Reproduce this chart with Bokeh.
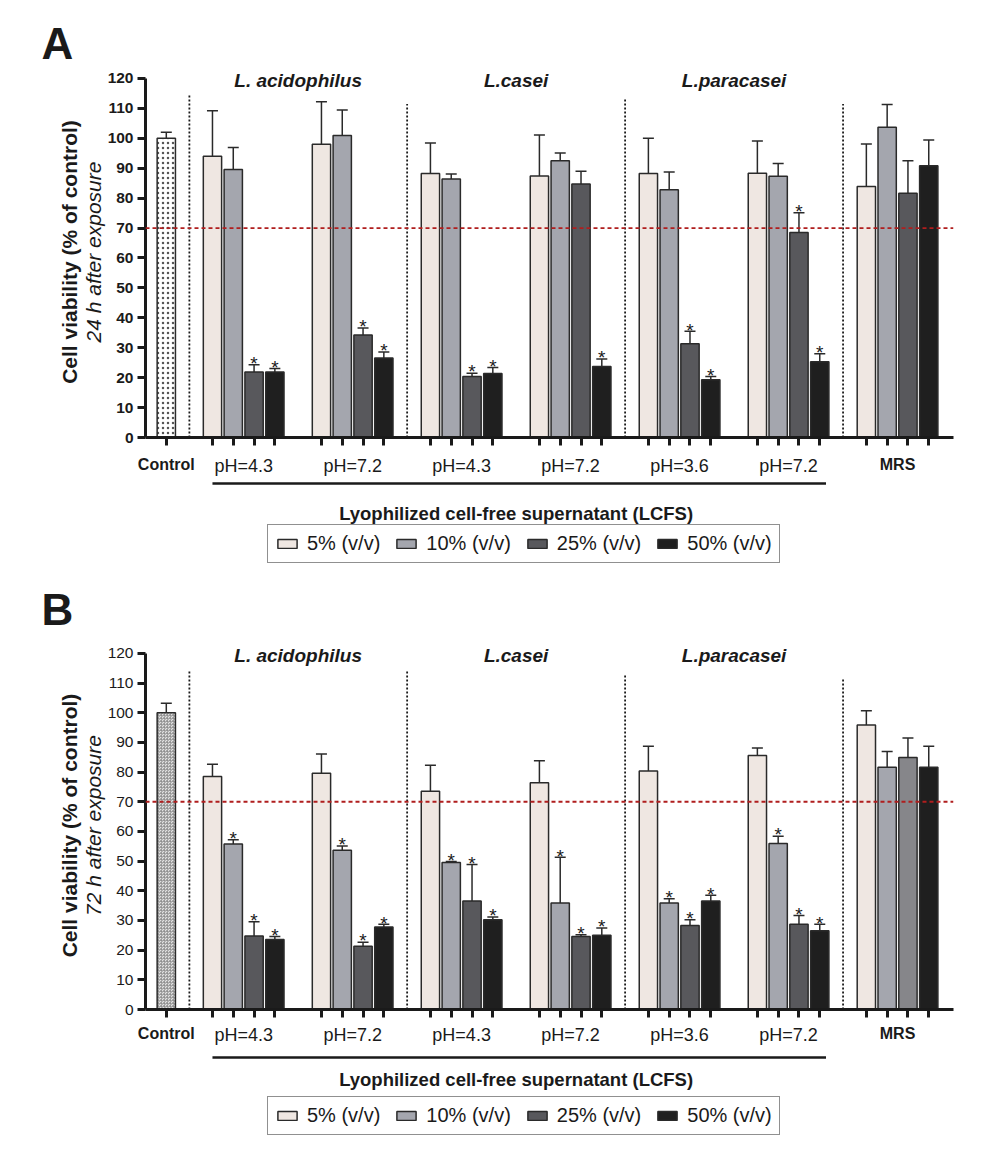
from bokeh.plotting import figure
from bokeh.models import (Range1d, LinearAxis, FixedTicker, Whisker, TeeHead,
                          ColumnDataSource, Legend, LegendItem, Span, CustomJSTickFormatter)
from bokeh.layouts import column
from bokeh.core.properties import value
from bokeh.embed import file_html
from bokeh.resources import INLINE

# ---------------- data ----------------
concentrations = ["5% (v/v)", "10% (v/v)", "25% (v/v)", "50% (v/v)"]
group_labels = ["pH=4.3", "pH=7.2", "pH=4.3", "pH=7.2", "pH=3.6", "pH=7.2", "MRS"]
control_label = "Control"
strains = ["L. acidophilus", "L.casei", "L.paracasei"]
x_title = "Lyophilized cell-free supernatant (LCFS)"

# Panel A: 24 h
A_control = 100.0
A_control_err = 2.0
A_5 = [94.0, 98.0, 88.2, 87.4, 88.2, 88.3, 83.9]
A_5_err = [15.2, 14.2, 10.2, 13.7, 11.8, 10.8, 14.2]
A_10 = [89.6, 100.9, 86.4, 92.5, 82.8, 87.3, 103.7]
A_10_err = [7.3, 8.6, 1.7, 2.6, 5.9, 4.3, 7.6]
A_25 = [21.9, 34.3, 20.4, 84.7, 31.3, 68.5, 81.6]
A_25_err = [2.4, 2.3, 1.1, 4.3, 4.2, 6.6, 10.9]
A_50 = [21.9, 26.6, 21.4, 23.7, 19.3, 25.3, 90.8]
A_50_err = [1.2, 2.0, 2.0, 2.5, 1.1, 2.7, 8.6]
A_5_sig = [0, 0, 0, 0, 0, 0, 0]
A_10_sig = [0, 0, 0, 0, 0, 0, 0]
A_25_sig = [1, 1, 1, 0, 1, 1, 0]
A_50_sig = [1, 1, 1, 1, 1, 1, 0]

# Panel B: 72 h
B_control = 100.0
B_control_err = 3.2
B_5 = [78.5, 79.6, 73.5, 76.4, 80.4, 85.6, 95.9]
B_5_err = [4.1, 6.5, 8.8, 7.4, 8.3, 2.5, 4.8]
B_10 = [55.8, 53.7, 49.5, 35.9, 35.9, 55.9, 81.6]
B_10_err = [1.4, 1.4, 0.4, 15.4, 1.4, 2.5, 5.3]
B_25 = [24.8, 21.3, 36.6, 24.6, 28.3, 28.7, 84.9]
B_25_err = [4.8, 1.4, 12.3, 0.6, 1.9, 3.0, 6.6]
B_50 = [23.6, 27.8, 30.2, 25.0, 36.6, 26.5, 81.6]
B_50_err = [1.0, 0.9, 1.0, 2.5, 1.9, 2.2, 7.1]
B_5_sig = [0, 0, 0, 0, 0, 0, 0]
B_10_sig = [1, 1, 1, 1, 1, 1, 0]
B_25_sig = [1, 1, 1, 1, 1, 1, 0]
B_50_sig = [1, 1, 1, 1, 1, 1, 0]

threshold = 70
y_ticks = list(range(0, 121, 10))

# ---------------- style / layout ----------------
COLORS = ["#efe7e2", "#a4a6ae", "#58585c", "#1f1f1f"]
MRS_25_COLOR_B = "#86868a"
EDGE = "#2a2a2a"
INK = "#1a1a1a"
FONT = "Liberation Sans"
W = 984
LEFT, RIGHT = 145, 31
BOTTOM = 44
LABEL_H = 20
X_END = 38.85
CONTROL_X = 1.0
GROUP0, GROUP_STEP = 3.22, 5.24
BAR_W = 0.88
group_starts = [GROUP0 + GROUP_STEP * i for i in range(7)]
group_centers = [g + 1.5 for g in group_starts]
bar_x = [[g + k for g in group_starts] for k in range(4)]
separators = [(CONTROL_X + group_starts[0]) / 2,
              (group_starts[1] + 3 + group_starts[2]) / 2,
              (group_starts[3] + 3 + group_starts[4]) / 2,
              (group_starts[5] + 3 + group_starts[6]) / 2]


def main_panel(letter, control, control_err, series, errs, sigs, tick_bold,
               sep_tops, height, top_border, title_standoff, sub_label,
               control_hatch, label_standoff, mrs25=None):
    p = figure(width=W, height=height, x_range=Range1d(0, X_END), y_range=Range1d(0, 124),
               output_backend="svg", toolbar_location=None,
               x_axis_location=None, y_axis_location=None,
               min_border_left=LEFT, min_border_right=RIGHT,
               min_border_top=top_border, min_border_bottom=BOTTOM, title=letter)
    p.outline_line_color = None
    p.xgrid.visible = False
    p.ygrid.visible = False
    p.title.text_font = FONT
    p.title.text_font_size = "44px"
    p.title.text_font_style = "bold"
    p.title.text_color = INK
    p.title.align = "left"
    p.title.offset = -104
    p.title.standoff = title_standoff

    yax = LinearAxis(ticker=FixedTicker(ticks=y_ticks, minor_ticks=[]), bounds=(0, 120),
                     axis_label=sub_label)
    yax.axis_line_width = 3
    yax.axis_line_color = INK
    yax.major_tick_line_width = 3
    yax.major_tick_line_color = INK
    yax.major_tick_out = 8
    yax.major_tick_in = 0
    yax.major_label_text_font = FONT
    yax.major_label_text_font_size = "15.5px"
    yax.major_label_text_font_style = "bold" if tick_bold else "normal"
    yax.major_label_text_color = INK
    yax.major_label_standoff = 4
    yax.axis_label_text_font = FONT
    yax.axis_label_text_font_size = "21px"
    yax.axis_label_text_font_style = "italic"
    yax.axis_label_text_color = INK
    yax.axis_label_standoff = 0
    p.add_layout(yax, "left")

    yax2 = LinearAxis(ticker=FixedTicker(ticks=[], minor_ticks=[]), bounds=(0, 120),
                      axis_label="Cell viability (% of control)")
    yax2.axis_line_color = None
    yax2.major_tick_line_color = None
    yax2.minor_tick_line_color = None
    yax2.major_label_standoff = 0
    yax2.axis_label_text_font = FONT
    yax2.axis_label_text_font_size = "21px"
    yax2.axis_label_text_font_style = "bold"
    yax2.axis_label_text_color = INK
    yax2.axis_label_standoff = -2
    p.add_layout(yax2, "left")

    # x axis: ticks under every bar, bold labels for Control and MRS
    all_x = sorted([CONTROL_X] + [x for row in bar_x for x in row])
    bold_names = [control_label, group_labels[6]]
    xax = LinearAxis(ticker=FixedTicker(ticks=[CONTROL_X, group_centers[6]], minor_ticks=all_x),
                     formatter=CustomJSTickFormatter(args=dict(names=bold_names),
                                                     code="return names[index];"))
    xax.axis_line_width = 3
    xax.axis_line_color = INK
    xax.major_tick_line_color = None
    xax.major_tick_out = 0
    xax.major_tick_in = 0
    xax.minor_tick_line_width = 3
    xax.minor_tick_line_color = INK
    xax.minor_tick_out = 8
    xax.minor_tick_in = 0
    xax.major_label_standoff = label_standoff
    xax.major_label_text_font = FONT
    xax.major_label_text_font_size = "16px"
    xax.major_label_text_font_style = "bold"
    xax.major_label_text_color = INK
    p.add_layout(xax, "below")

    # second x axis: regular pH labels on the same line
    xax2 = LinearAxis(ticker=FixedTicker(ticks=group_centers[:6], minor_ticks=[]),
                      formatter=CustomJSTickFormatter(args=dict(names=group_labels[:6]),
                                                      code="return names[index];"))
    xax2.axis_line_color = None
    xax2.major_tick_line_color = None
    xax2.minor_tick_line_color = None
    xax2.major_tick_out = 0
    xax2.major_tick_in = 0
    xax2.major_label_standoff = -LABEL_H
    xax2.major_label_text_font = FONT
    xax2.major_label_text_font_size = "18px"
    xax2.major_label_text_color = INK
    p.add_layout(xax2, "below")

    # threshold line
    p.add_layout(Span(location=threshold, dimension="width", line_color="#b01e1e",
                      line_width=1.8, line_dash="4 3"))
    # separators
    p.segment(x0=separators, x1=separators, y0=[0] * 4, y1=sep_tops,
              line_color=INK, line_width=1.8, line_dash="2 2")

    # control bar
    csrc = ColumnDataSource(dict(x=[CONTROL_X], top=[control], up=[control + control_err]))
    p.vbar(x="x", top="top", width=BAR_W, bottom=0, source=csrc, fill_color=control_hatch[0],
           line_color=EDGE, line_width=1.5, hatch_pattern=control_hatch[1],
           hatch_color=control_hatch[2], hatch_scale=control_hatch[3],
           hatch_weight=control_hatch[4])
    p.add_layout(Whisker(source=csrc, base="x", lower="top", upper="up",
                         line_color=EDGE, line_width=1.5,
                         upper_head=TeeHead(size=11, line_color=EDGE, line_width=1.5),
                         lower_head=None))

    for k in range(4):
        vals = series[k]
        ups = [v + e for v, e in zip(vals, errs[k])]
        cols = [COLORS[k]] * 7
        if mrs25 is not None and k == 2:
            cols[6] = mrs25
        src = ColumnDataSource(dict(x=bar_x[k], top=vals, up=ups, color=cols))
        p.vbar(x="x", top="top", width=BAR_W, bottom=0, source=src,
               fill_color="color", line_color=EDGE, line_width=1.5)
        p.add_layout(Whisker(source=src, base="x", lower="top", upper="up",
                             line_color=EDGE, line_width=1.5,
                             upper_head=TeeHead(size=11, line_color=EDGE, line_width=1.5),
                             lower_head=None))
        sx = [x for x, s in zip(bar_x[k], sigs[k]) if s]
        sy = [u + 0.4 for u, s in zip(ups, sigs[k]) if s]
        if sx:
            p.text(x=sx, y=sy, text=["*"] * len(sx), text_align="center",
                   text_baseline="alphabetic", text_font=value(FONT), text_font_size="19px",
                   text_color=INK)

    # strain titles
    strain_x = [(group_centers[0] + group_centers[1]) / 2,
                (group_centers[2] + group_centers[3]) / 2,
                (group_centers[4] + group_centers[5]) / 2]
    p.text(x=strain_x, y=[119.2] * 3, text=strains, text_align="center",
           text_baseline="middle", text_font=value(FONT), text_font_size="19px",
           text_font_style="bold italic", text_color=INK)
    return p


def strip_panel(height, y_line, y_title, leg_y):
    s = figure(width=W, height=height, x_range=Range1d(0, X_END),
               y_range=Range1d(0, height),
               output_backend="svg", toolbar_location=None,
               x_axis_location=None, y_axis_location=None,
               min_border_left=LEFT, min_border_right=RIGHT,
               min_border_top=0, min_border_bottom=0)
    s.outline_line_color = None
    s.xgrid.visible = False
    s.ygrid.visible = False
    s.segment(x0=[bar_x[0][0]], x1=[bar_x[3][5] + 0.3], y0=[y_line], y1=[y_line],
              line_color=INK, line_width=2.5)
    s.text(x=[(bar_x[0][0] + bar_x[3][5]) / 2], y=[y_title], text=[x_title], text_align="center",
           text_baseline="middle", text_font=value(FONT), text_font_size="18.5px",
           text_font_style="bold", text_color=INK)
    items = []
    for k in range(4):
        r = s.vbar(x=[1], top=[1], bottom=[0], width=1, fill_color=COLORS[k],
                   line_color=EDGE, line_width=1.5)
        r.visible = False
        items.append(LegendItem(label=concentrations[k], renderers=[r]))
    leg = Legend(items=items, orientation="horizontal", location=(122, leg_y),
                 glyph_width=24, glyph_height=11, label_standoff=8, spacing=14,
                 label_height=20, padding=7, margin=0,
                 border_line_color="#222222", border_line_width=1.5,
                 label_text_font=FONT, label_text_font_size="20px",
                 label_text_color=INK, background_fill_color="white",
                 inactive_fill_alpha=0.0, click_policy="none")
    s.add_layout(leg, "center")
    return s


A_series = [A_5, A_10, A_25, A_50]
A_errs = [A_5_err, A_10_err, A_25_err, A_50_err]
A_sigs = [A_5_sig, A_10_sig, A_25_sig, A_50_sig]
B_series = [B_5, B_10, B_25, B_50]
B_errs = [B_5_err, B_10_err, B_25_err, B_50_err]
B_sigs = [B_5_sig, B_10_sig, B_25_sig, B_50_sig]

A_H = 66 + 371 + BOTTOM
B_H = 61 + 373 + BOTTOM
pA = main_panel("A", A_control, A_control_err, A_series, A_errs, A_sigs, True,
                [114.5, 111.5, 113.5, 111.5], A_H, 66, -2,
                "24 h after exposure", ("white", "dot", "#555555", 5, 1.2), 10)
sA = strip_panel(575 - A_H, 92, 62, 12)
pB = main_panel("B", B_control, B_control_err, B_series, B_errs, B_sigs, False,
                [114, 114, 113, 111.5], B_H, 61, 15,
                "72 h after exposure", ("#e2e2e2", "criss_cross", "#8a8a8a", 3, 0.6), 7,
                mrs25=MRS_25_COLOR_B)
sB = strip_panel(1150 - 575 - B_H, 93, 71, 15)

layout = column(pA, sA, pB, sB, spacing=0)
open("out.html", "w").write(file_html(layout, INLINE))
